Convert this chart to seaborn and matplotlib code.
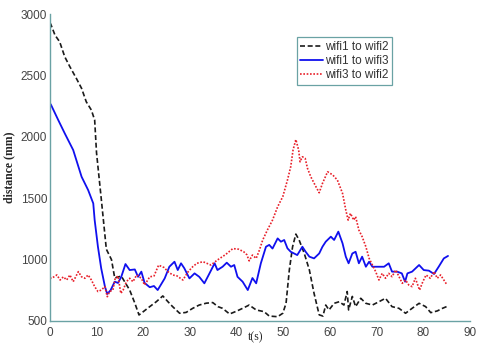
import matplotlib
matplotlib.use("Agg")
import matplotlib.pyplot as plt
import seaborn as sns
import pandas as pd

# wifi1 to wifi2
t_12 = [0.0, 0.2, 1.1, 2.1, 3.2, 4.3, 5.7, 6.8, 7.8, 8.9, 9.6, 10.0, 11.0, 12.1, 13.2, 13.9,
        15.3, 17.1, 18.2, 19.1, 21.4, 22.8, 24.2, 25.3, 26.3, 27.8, 29.2, 30.6, 32.0, 33.5,
        34.9, 36.0, 37.0, 38.5, 40.0, 41.4, 42.7, 44.2, 45.9, 47.0, 48.8, 49.9, 50.6, 51.3,
        52.0, 52.7, 53.4, 54.5, 55.6, 56.6, 57.7, 58.5, 59.1, 59.8, 60.9, 62.0, 63.0, 63.7,
        64.0, 64.8, 65.5, 66.6, 67.7, 69.1, 70.5, 71.9, 73.3, 74.8, 76.2, 77.6, 79.1, 80.5,
        81.6, 83.0, 84.1, 85.3]
d_12 = [2930, 2918, 2829, 2775, 2652, 2571, 2475, 2395, 2286, 2218, 2137, 1870, 1500, 1085,
        1000, 850, 866, 752, 646, 549, 617, 657, 704, 657, 617, 563, 570, 603, 630, 645,
        650, 617, 603, 557, 580, 605, 630, 590, 576, 540, 535, 563, 644, 915,
        1105, 1208, 1160, 1051, 915, 725, 550, 540, 630, 590, 644, 657, 630, 740,
        590, 700, 617, 685, 644, 630, 657, 685, 617, 603, 563, 603, 644, 617,
        568, 582, 603, 622]

# wifi1 to wifi3
t_13 = [0.0, 0.2, 1.8, 3.2, 5.0, 6.8, 8.2, 9.3, 9.6, 10.3, 11.0, 11.8, 12.3, 13.0, 13.9,
        14.6, 15.3, 16.2, 17.1, 18.2, 18.9, 19.6, 20.3, 21.4, 22.3, 23.1, 24.6, 25.6, 26.7,
        27.4, 28.1, 28.8, 29.9, 31.0, 32.0, 33.1, 34.2, 35.3, 35.9, 37.0, 37.9, 38.8, 39.5,
        40.2, 41.3, 42.4, 43.4, 44.2, 45.2, 46.3, 47.0, 47.7, 48.8, 49.5, 50.2, 50.9, 51.6,
        53.0, 54.1, 54.8, 55.6, 56.6, 57.7, 58.4, 59.1, 60.2, 60.9, 61.8, 62.7, 63.4, 64.0,
        64.8, 65.5, 66.2, 66.9, 67.7, 68.4, 69.1, 70.5, 71.6, 72.6, 73.3, 74.4, 75.4, 76.1,
        76.6, 77.6, 79.1, 80.1, 81.2, 82.3, 83.3, 84.4, 85.3]
d_13 = [2270, 2265, 2137, 2028, 1893, 1675, 1567, 1458, 1322, 1105, 929, 780, 720, 750, 820,
        810, 860, 964, 915, 920, 860, 902, 810, 775, 785, 752, 847, 942, 983,
        915, 970, 930, 847, 888, 860, 807, 888, 970, 915, 942, 975, 942, 956,
        860, 820, 752, 850, 807, 970, 1105, 1120, 1090, 1173, 1146, 1160, 1092, 1064,
        1037, 1105, 1064, 1024, 1010, 1050, 1105, 1146, 1187, 1160, 1228, 1133, 1024, 970,
        1050, 1064, 970, 1024, 942, 983, 942, 942, 942, 970, 902, 902, 888, 820,
        888, 902, 956, 915, 910, 883, 942, 1010, 1030]

# wifi3 to wifi2
t_32 = [0.0, 0.4, 1.5, 2.2, 2.9, 3.6, 4.3, 5.0, 6.1, 6.8, 7.5, 8.2, 8.9, 9.6, 10.3, 11.0,
        11.8, 12.3, 12.8, 13.5, 14.0, 14.6, 15.2, 15.7, 16.4, 17.1, 17.8, 18.6, 19.6, 20.3,
        21.4, 22.3, 23.3, 24.5, 25.3, 26.3, 27.2, 28.5, 29.6, 30.6, 31.5, 32.8, 34.5, 35.9,
        37.6, 39.2, 40.4, 41.5, 42.2, 42.7, 43.4, 44.2, 44.9, 45.6, 46.6, 47.7, 48.8, 49.9,
        50.9, 51.6, 52.1, 52.7, 53.3, 53.6, 54.1, 54.7, 55.2, 55.9, 57.0, 57.7, 58.4, 59.5,
        60.6, 61.6, 62.7, 63.4, 63.9, 64.4, 65.1, 65.5, 66.2, 66.9, 67.7, 68.4, 69.1, 69.8,
        70.5, 71.2, 71.9, 72.6, 73.3, 74.1, 74.8, 75.5, 76.2, 76.9, 77.6, 78.3, 79.2, 79.9,
        80.6, 81.5, 82.3, 83.0, 83.7, 84.4, 85.1]
d_32 = [850, 848, 875, 834, 860, 834, 875, 820, 902, 860, 848, 875, 834, 780, 740, 752,
        780, 698, 740, 752, 848, 866, 725, 752, 820, 848, 820, 875, 848, 793,
        860, 866, 955, 935, 902, 875, 868, 834, 900, 942, 970, 983, 956, 997,
        1040, 1090, 1085, 1065, 1040, 990, 1037, 1010, 1078, 1160, 1241, 1322, 1431, 1513,
        1648, 1757, 1893, 1978, 1893, 1797, 1838, 1825, 1743, 1675, 1594, 1545, 1621, 1716,
        1690, 1648, 1540, 1404, 1322, 1377, 1322, 1350, 1241, 1187, 1105, 1010, 956, 902,
        834, 888, 848, 888, 861, 915, 861, 807, 834, 793, 780, 848, 752, 820,
        875, 848, 902, 848, 875, 834, 793]

labels = ["wifi1 to wifi2", "wifi1 to wifi3", "wifi3 to wifi2"]

sns.set_style("white")
plt.rcParams["font.family"] = ["Liberation Sans", "DejaVu Sans"]

fig = plt.figure(figsize=(4.84, 3.45), dpi=100)
ax = fig.add_axes([0.103, 0.0696, 0.868, 0.8894])

spine_col = "#6aa2a4"
sns.lineplot(x=t_12, y=d_12, ax=ax, color="#1a1a1a", lw=1.2,
             linestyle=(0, (3, 1.6)), label=labels[0])
sns.lineplot(x=t_13, y=d_13, ax=ax, color="#1010ee", lw=1.3,
             linestyle="-", label=labels[1])
sns.lineplot(x=t_32, y=d_32, ax=ax, color="#e8202a", lw=1.2,
             linestyle=(0, (1, 1)), label=labels[2])

ax.set_xlim(0, 90)
ax.set_ylim(500, 3000)
ax.set_xticks(range(0, 91, 10))
ax.set_yticks(range(500, 3001, 500))

for side in ["top", "right"]:
    ax.spines[side].set_visible(False)
for side in ["left", "bottom"]:
    ax.spines[side].set_color(spine_col)
    ax.spines[side].set_linewidth(1.0)

ax.tick_params(axis="both", direction="in", length=4, width=0.8, color=spine_col,
               labelsize=8.5, labelcolor="#444444")
ax.tick_params(axis="x", pad=4)
ax.tick_params(axis="y", pad=2)

ax.set_ylabel("distance (mm)", fontsize=8.5, fontweight="bold",
              family=["Liberation Serif", "DejaVu Serif"], labelpad=4)
ax.set_xlabel("t(s)", fontsize=8.5, family=["Liberation Serif", "DejaVu Serif"])
ax.xaxis.set_label_coords(0.49, -0.033)

leg = ax.legend(loc="upper left", bbox_to_anchor=(0.588, 0.925), fontsize=8.5,
                frameon=True, fancybox=False, framealpha=1, borderpad=0.3,
                handlelength=1.9, handletextpad=0.2, labelspacing=0.2,
                borderaxespad=0)
leg.get_frame().set_edgecolor(spine_col)
leg.get_frame().set_linewidth(0.9)
for txt in leg.get_texts():
    txt.set_color("#333333")

fig.savefig("out.png", dpi=100)
